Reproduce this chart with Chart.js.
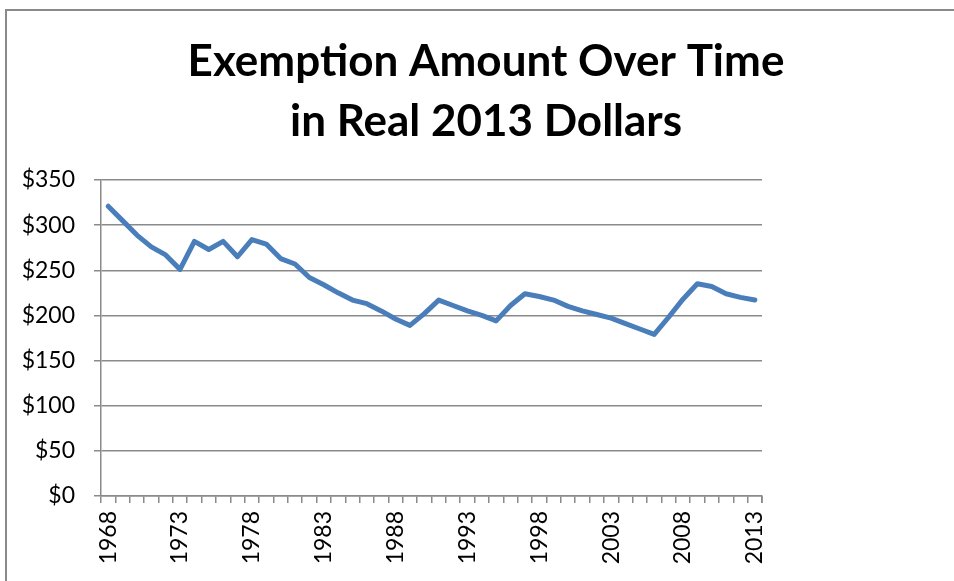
<!DOCTYPE html>
<html>
<head>
<meta charset="utf-8">
<script src="https://cdn.jsdelivr.net/npm/chart.js@4"></script>
<style>
    html, body { margin: 0; padding: 0; background: #fff; overflow: hidden; width: 954px; height: 581px; }
    #marco { position: absolute; left: 5px; top: 9px; width: 1000px; height: 600px; border-left: 2px solid #8a8a8a; border-top: 2px solid #8a8a8a; }
    #caja { position: absolute; left: 0; top: 0; width: 972px; height: 581px; }
</style>
</head>
<body>
<div id="marco"></div>
<div id="caja"><canvas id="graficoExencion"></canvas></div>
<script>
// Datos del gráfico
const anios = [];
for (let a = 1968; a <= 2013; a++) anios.push(String(a));

const montos = [
    321, 305, 289, 276, 267, 251, 282, 273, 282, 265,
    284, 279, 263, 257, 242, 234, 225, 217, 213, 205,
    196, 189, 202, 217, 211, 205, 200, 194, 211, 224,
    221, 217, 210, 205, 201, 197, 191, 185, 179, 198,
    218, 235, 232, 224, 220, 217
];

const valoresEje = [0, 50, 100, 150, 200, 250, 300, 350];

const TITULO = ['Exemption Amount Over Time', 'in Real 2013 Dollars'];

const GRIS = '#8a8a8a';
const FUENTE = 'Lato';

// Marca final del eje X (Chart.js no dibuja la última división con grid.offset)
const marcaFinal = {
    id: 'marcaFinal',
    afterDraw(chart) {
        const x = chart.scales.x;
        const c = chart.ctx;
        c.save();
        c.strokeStyle = GRIS;
        c.lineWidth = 1.5;
        c.beginPath();
        c.moveTo(x.right, x.top);
        c.lineTo(x.right, x.top + 7);
        c.stroke();
        c.restore();
    }
};

function generarGrafico() {
    const ctx = document.getElementById('graficoExencion').getContext('2d');
    new Chart(ctx, {
        type: 'line',
        data: {
            labels: anios,
            datasets: [{
                label: 'Exemption',
                data: montos,
                borderColor: '#4a7ebb',
                borderWidth: 5,
                pointRadius: 0,
                tension: 0,
                borderJoinStyle: 'round',
                borderCapStyle: 'round',
                yAxisID: 'y'
            }]
        },
        options: {
            responsive: true,
            maintainAspectRatio: false,
            animation: false,
            layout: { padding: 0 },
            plugins: {
                legend: { display: false },
                tooltip: { enabled: false },
                title: {
                    display: true,
                    text: TITULO,
                    color: '#000',
                    font: { family: FUENTE, size: 44, weight: 'bold', lineHeight: 60 / 44 },
                    padding: { top: 32, bottom: 28 }
                }
            },
            scales: {
                x: {
                    offset: true,
                    grid: {
                        offset: true,
                        drawOnChartArea: false,
                        drawTicks: true,
                        tickLength: 7,
                        color: GRIS,
                        lineWidth: 1.5
                    },
                    border: { display: true, color: GRIS, width: 1.5 },
                    ticks: {
                        autoSkip: false,
                        maxRotation: 90,
                        minRotation: 90,
                        padding: 8,
                        color: '#000',
                        font: { family: FUENTE, size: 23 },
                        callback: function (valor, i) {
                            return (i % 5 === 0) ? anios[i] : '';
                        }
                    },
                    afterFit: s => { s.height = 85; }
                },
                y: {
                    min: 0,
                    max: 350,
                    afterBuildTicks: s => { s.ticks = valoresEje.map(v => ({ value: v })); },
                    grid: { color: GRIS, lineWidth: 1.5, tickLength: 7 },
                    border: { display: true, color: GRIS, width: 1.5 },
                    ticks: {
                        padding: 19,
                        color: '#000',
                        font: { family: FUENTE, size: 23 },
                        callback: v => '$' + v
                    },
                    afterFit: s => { s.width = 101; }
                },
                derecha: {
                    type: 'linear',
                    position: 'right',
                    display: true,
                    grid: { display: false },
                    border: { display: false },
                    ticks: { display: false },
                    afterFit: s => { s.width = 972 - 762; }
                }
            }
        },
        plugins: [marcaFinal]
    });
}

generarGrafico();
</script>
</body>
</html>
